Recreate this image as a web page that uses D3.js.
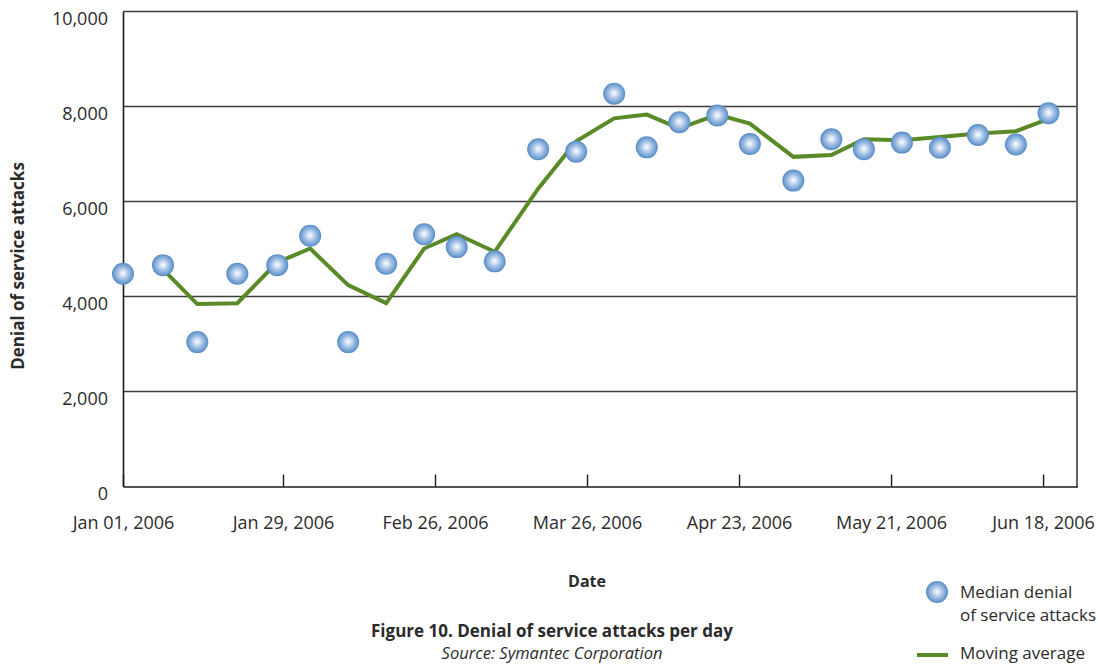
<!DOCTYPE html>
<html>
<head>
<meta charset="utf-8">
<script src="https://cdn.jsdelivr.net/npm/d3@7/dist/d3.min.js"></script>
<style>
  html, body { margin: 0; padding: 0; background: #ffffff; }
  svg { display: block; }
  text { font-family: "Open Sans", "Noto Sans", sans-serif; fill: #2b2b2b; }
</style>
</head>
<body>
<svg id="chart" width="1098" height="664"></svg>
<script>
// Weekly sample dates
const sampleDates = [
  "2006-01-01", "2006-01-08", "2006-01-14", "2006-01-21", "2006-01-28",
  "2006-02-03", "2006-02-10", "2006-02-17", "2006-02-24", "2006-03-02",
  "2006-03-09", "2006-03-17", "2006-03-24", "2006-03-31", "2006-04-06",
  "2006-04-12", "2006-04-19", "2006-04-25", "2006-05-03", "2006-05-10",
  "2006-05-16", "2006-05-23", "2006-05-30", "2006-06-06", "2006-06-13",
  "2006-06-19"
];

// Median denial of service attacks per day
const medianAttacks = [
  4480, 4660, 3040, 4480, 4660, 5280, 3040, 4690, 5310, 5040,
  4740, 7100, 7050, 8270, 7140, 7670, 7810, 7210, 6440, 7310,
  7100, 7240, 7130, 7400, 7200, 7860
];

// Moving average (no value for the first sample)
const movingAverage = [
  null, 4570, 3840, 3860, 4720, 5010, 4240, 3860, 5010, 5310,
  4940, 6270, 7270, 7750, 7830, 7540, 7830, 7640, 6940, 6980,
  7310, 7290, 7360, 7430, 7480, 7740
];

const xTickDates = ["2006-01-01", "2006-01-29", "2006-02-26", "2006-03-26",
                    "2006-04-23", "2006-05-21", "2006-06-18"];
const yTickValues = [0, 2000, 4000, 6000, 8000, 10000];

const parse = d3.timeParse("%Y-%m-%d");
const fmt = d3.timeFormat("%b %d, %Y");

const svg = d3.select("#chart");

const plot = { left: 123, right: 1077, top: 11.5, bottom: 486.5 };

const x = d3.scaleTime()
  .domain([new Date(2006, 0, 1), new Date(2006, 0, 29), new Date(2006, 5, 24, 6)])
  .range([plot.left, 283, plot.right]);

const y = d3.scaleLinear()
  .domain([0, 10000])
  .range([plot.bottom, plot.top]);

const points = sampleDates.map((d, i) => ({
  date: parse(d), median: medianAttacks[i], avg: movingAverage[i]
}));

// Bubble shading
const defs = svg.append("defs");
const grad = defs.append("radialGradient")
  .attr("id", "bubble")
  .attr("cx", "50%").attr("cy", "50%").attr("r", "50%")
  .attr("fx", "50%").attr("fy", "48%");
[[0, "#ffffff"], [0.18, "#dfe9f6"], [0.55, "#9dbde3"], [0.85, "#6f9dd1"], [1, "#5488c2"]]
  .forEach(([o, c]) => grad.append("stop").attr("offset", o).attr("stop-color", c));

// Horizontal gridlines
svg.append("g")
  .selectAll("line")
  .data(yTickValues.filter(v => v > 0))
  .join("line")
  .attr("x1", plot.left).attr("x2", plot.right)
  .attr("y1", d => y(d)).attr("y2", d => y(d))
  .attr("stroke", "#3c3c3c")
  .attr("stroke-width", 1.6);

// Right frame
svg.append("line")
  .attr("x1", plot.right).attr("x2", plot.right)
  .attr("y1", plot.top - 1).attr("y2", plot.bottom + 1)
  .attr("stroke", "#666")
  .attr("stroke-width", 2);

// Y axis
const yAxis = svg.append("g")
  .attr("transform", `translate(${plot.left},0)`)
  .call(d3.axisLeft(y).tickValues(yTickValues).tickSize(0).tickPadding(15)
    .tickFormat(d3.format(",")));
yAxis.select(".domain").attr("stroke", "#1a1a1a").attr("stroke-width", 1.6);
yAxis.selectAll("text")
  .attr("dy", "0.71em")
  .style("font-size", "18px")
  .style("font-family", "'Open Sans', sans-serif")
  .attr("fill", "#333");

// X axis with inward ticks
const xAxis = svg.append("g")
  .attr("transform", `translate(0,${plot.bottom})`)
  .call(d3.axisBottom(x).tickValues(xTickDates.map(parse))
    .tickSizeInner(-12).tickSizeOuter(0).tickPadding(30).tickFormat(fmt));
xAxis.select(".domain").attr("stroke", "#1a1a1a").attr("stroke-width", 1.6);
xAxis.selectAll(".tick line").attr("stroke", "#1a1a1a").attr("stroke-width", 1.4);
xAxis.selectAll("text")
  .style("font-size", "18px")
  .style("font-family", "'Open Sans', sans-serif")
  .attr("fill", "#333");

// Moving average line
const line = d3.line()
  .defined(d => d.avg != null)
  .x(d => x(d.date))
  .y(d => y(d.avg));

svg.append("path")
  .datum(points)
  .attr("d", line)
  .attr("fill", "none")
  .attr("stroke", "#5a8a27")
  .attr("stroke-width", 4)
  .attr("stroke-linejoin", "miter");

// Median bubbles
svg.append("g")
  .selectAll("circle")
  .data(points)
  .join("circle")
  .attr("cx", d => x(d.date))
  .attr("cy", d => y(d.median))
  .attr("r", 11)
  .attr("fill", "url(#bubble)");

// Axis titles
svg.append("text")
  .attr("transform", "translate(24,266) rotate(-90)")
  .attr("text-anchor", "middle")
  .style("font-size", "17px")
  .style("font-weight", "bold")
  .text("Denial of service attacks");

svg.append("text")
  .attr("x", 587).attr("y", 587)
  .attr("text-anchor", "middle")
  .style("font-size", "16px")
  .style("font-weight", "bold")
  .text("Date");

// Caption
svg.append("text")
  .attr("x", 552).attr("y", 637)
  .attr("text-anchor", "middle")
  .style("font-size", "17px")
  .style("font-weight", "bold")
  .text("Figure 10. Denial of service attacks per day");

svg.append("text")
  .attr("x", 552).attr("y", 659)
  .attr("text-anchor", "middle")
  .style("font-size", "16.5px")
  .style("font-style", "italic")
  .text("Source: Symantec Corporation");

// Legend
const legend = svg.append("g");
legend.append("circle")
  .attr("cx", 937).attr("cy", 592).attr("r", 11)
  .attr("fill", "url(#bubble)");
legend.append("text")
  .attr("x", 960).attr("y", 598)
  .style("font-size", "17px")
  .text("Median denial");
legend.append("text")
  .attr("x", 960).attr("y", 621)
  .style("font-size", "17px")
  .text("of service attacks");
legend.append("line")
  .attr("x1", 917).attr("x2", 948)
  .attr("y1", 655).attr("y2", 655)
  .attr("stroke", "#5a8a27")
  .attr("stroke-width", 4);
legend.append("text")
  .attr("x", 960).attr("y", 659)
  .style("font-size", "17px")
  .text("Moving average");
</script>
</body>
</html>
